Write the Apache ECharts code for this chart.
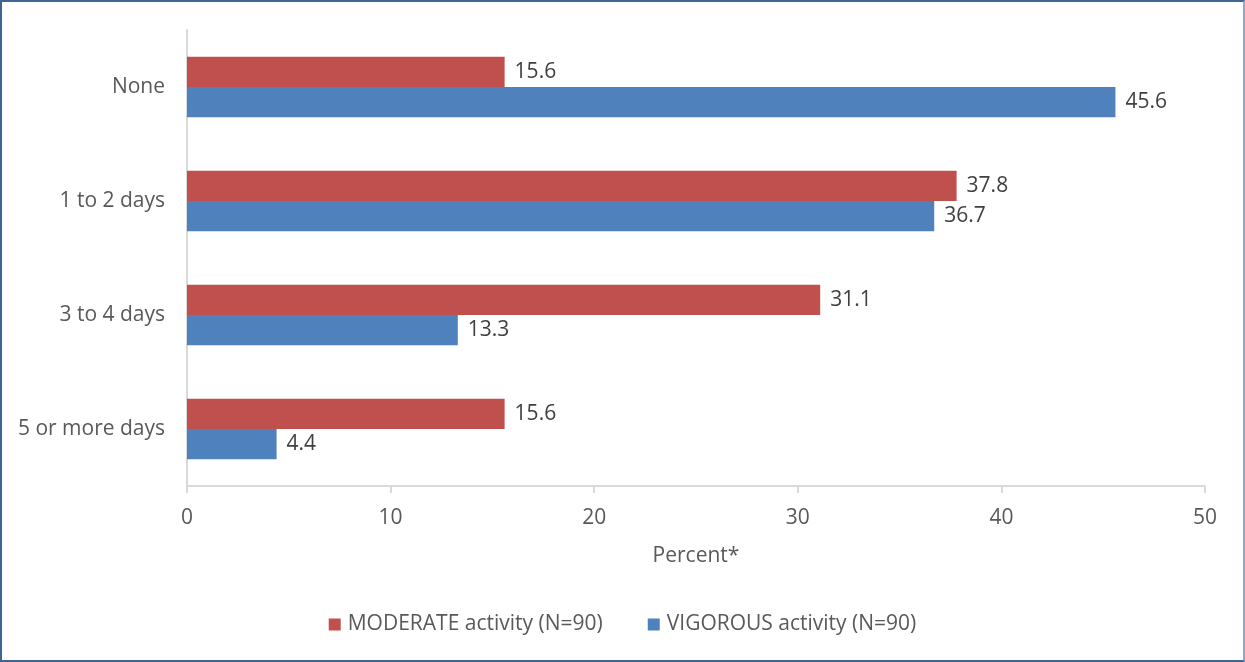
<!DOCTYPE html>
<html><head><meta charset="utf-8">
<script src="https://cdn.jsdelivr.net/npm/echarts@6/dist/echarts.min.js"></script>
<style>
html,body{margin:0;padding:0;background:#fff;}
#c{position:absolute;left:0;top:0;width:1241px;height:658px;border:2px solid #3f6592;border-right-color:#8fa7c4;}
</style></head><body>
<div id="c"></div>
<script>
const categories = ["None", "1 to 2 days", "3 to 4 days", "5 or more days"];
const moderate = [15.6, 37.8, 31.1, 15.6];
const vigorous = [45.6, 36.7, 13.3, 4.4];
const seriesNames = ["MODERATE activity (N=90)", "VIGOROUS activity (N=90)"];
const xTicks = [0, 10, 20, 30, 40, 50];

const font = "'Open Sans', 'Liberation Sans', sans-serif";
const fs = 21;
const chart = echarts.init(document.getElementById('c'), null, {renderer: 'canvas'});
const lbl = {show: true, position: 'right', distance: 10, color: '#404040', fontSize: fs, fontFamily: font, formatter: p => p.value.toFixed(1)};
chart.setOption({
  animation: false,
  textStyle: {fontFamily: font},
  grid: {left: 185, right: 38, top: 28, bottom: 174, containLabel: false},
  legend: {
    bottom: 20, left: 'center', itemWidth: 12, itemHeight: 12, itemGap: 45, icon: 'rect',
    textStyle: {fontSize: fs, color: '#595959', fontFamily: font, padding: [0, 0, 0, 2]},
    data: seriesNames
  },
  xAxis: {
    type: 'value', min: xTicks[0], max: xTicks[xTicks.length - 1], interval: 10,
    name: 'Percent*', nameLocation: 'middle', nameGap: 60,
    nameTextStyle: {fontSize: fs, color: '#595959', fontFamily: font},
    axisLine: {show: true, lineStyle: {color: '#d9d9d9', width: 2}},
    axisTick: {show: true, length: 7, lineStyle: {color: '#d9d9d9', width: 2}},
    axisLabel: {fontSize: fs, color: '#595959', margin: 22, fontFamily: font},
    splitLine: {show: false}
  },
  yAxis: {
    type: 'category', data: categories, inverse: true,
    axisLine: {show: true, lineStyle: {color: '#d9d9d9', width: 2}},
    axisTick: {show: false},
    axisLabel: {fontSize: fs, color: '#595959', margin: 22, fontFamily: font}
  },
  series: [
    {name: seriesNames[0], type: 'bar', data: moderate, barGap: '0%', barCategoryGap: '47%',
     itemStyle: {color: '#c0504d'}, label: lbl},
    {name: seriesNames[1], type: 'bar', data: vigorous, barGap: '0%', barCategoryGap: '47%',
     itemStyle: {color: '#4f81bd'}, label: lbl}
  ]
});
</script>
</body></html>
